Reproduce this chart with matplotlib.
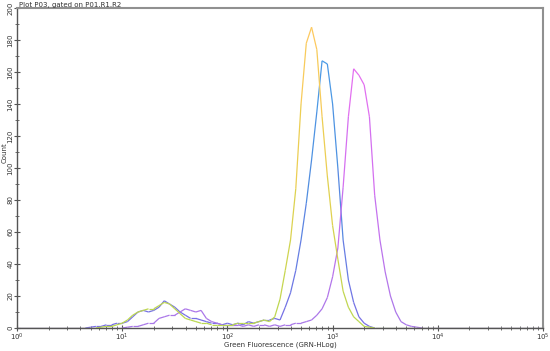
import numpy as np
import matplotlib.pyplot as plt
from matplotlib.collections import LineCollection
from matplotlib.colors import LinearSegmentedColormap

# log10 channel positions shared by the three histograms
log_channels = np.round(np.arange(0.60, 3.91, 0.05), 2)

yellow_counts = [
    0, 0, 0, 0, 0.5, 1, 1, 2, 3, 5, 8, 10, 11, 12, 12, 14, 16, 15, 12, 9,
    6, 5, 4, 3, 3, 2, 2, 2, 2, 2, 3, 3, 3, 3, 4, 5, 4, 7, 18, 36,
    55, 87, 140, 178, 188, 174, 132, 95, 64, 43, 23, 13, 7, 4, 1, 0.5, 0, 0, 0, 0,
    0, 0, 0, 0, 0, 0, 0,
]
blue_counts = [
    0, 0, 0.5, 1, 1, 2, 2, 3, 3, 4, 7, 10, 11, 10, 11, 13, 17, 15, 13, 10,
    8, 6, 6, 5, 4, 3, 3, 2, 3, 2, 3, 2, 4, 3, 4, 5, 5, 6, 5, 13,
    22, 36, 55, 78, 105, 135, 167, 165, 140, 100, 55, 30, 16, 7, 3, 1, 0, 0, 0, 0,
    0, 0, 0, 0, 0, 0, 0,
]
magenta_counts = [
    0, 0, 0, 0, 0, 0, 0, 0, 0, 0.5, 1, 1, 2, 3, 3, 6, 7, 8, 8, 10,
    12, 11, 10, 11, 6, 4, 3, 2, 2, 2, 2, 1, 2, 1, 2, 2, 1, 2, 1, 2,
    2, 3, 3, 4, 5, 8, 12, 19, 32, 50, 88, 132, 162, 158, 152, 132, 83, 55, 35, 20,
    10, 4, 2, 1, 0.5, 0, 0,
]

# colour at the baseline -> colour at the peak
series = [
    ("blue", blue_counts, ["#7a6ee6", "#4f8fe0", "#4aa0e8"]),
    ("magenta", magenta_counts, ["#a878e8", "#d070f0", "#f070f0"]),
    ("yellow", yellow_counts, ["#b8d850", "#e8d050", "#ffc860"]),
]

fig = plt.figure(figsize=(5.5, 3.51), dpi=100)
ax = fig.add_axes([17 / 550, 1 - 328 / 351, 526 / 550, 320 / 351])

x = 10 ** np.concatenate([[0], log_channels, [5]])
for name, counts, cols in series:
    y = np.concatenate([[0], counts, [0]])
    pts = np.column_stack([x, y]).reshape(-1, 1, 2)
    segs = np.concatenate([pts[:-1], pts[1:]], axis=1)
    cmap = LinearSegmentedColormap.from_list(name, cols)
    lc = LineCollection(segs, cmap=cmap, norm=plt.Normalize(0, 190), linewidth=0.9)
    lc.set_array((y[:-1] + y[1:]) / 2)
    ax.add_collection(lc)

ax.set_xscale("log")
ax.set_xlim(1, 1e5)
ax.set_ylim(0, 200)

ax.set_yticks(np.arange(0, 201, 20))
ax.set_yticks(np.arange(0, 201, 10), minor=True)
ax.set_yticklabels([str(v) for v in range(0, 201, 20)], rotation=90, va="center", fontsize=5, color="#333333")
ax.set_xticks([1, 10, 100, 1000, 1e4, 1e5])
ax.set_xticklabels([r"$10^{%d}$" % i for i in range(6)], fontsize=5, color="#333333")
ax.tick_params(axis="both", which="major", direction="inout", length=4, width=0.8, color="#555555", pad=0.5)
ax.tick_params(axis="both", which="minor", direction="inout", length=2.5, width=0.6, color="#555555")

for side in ["left", "bottom"]:
    ax.spines[side].set_color("#555555")
    ax.spines[side].set_linewidth(1.0)
for side in ["top", "right"]:
    ax.spines[side].set_color("#909090")
    ax.spines[side].set_linewidth(1.5)

fig.text(19 / 550, 1 - 5 / 351, "Plot P03, gated on P01.R1.R2", fontsize=5, color="#333333", va="center")
fig.text(5 / 550, 1 - 153 / 351, "Count", fontsize=5, color="#333333", rotation=90, ha="center", va="center")
fig.text(280 / 550, 1 - 345 / 351, "Green Fluorescence (GRN-HLog)", fontsize=5, color="#333333", ha="center", va="center")

fig.savefig("out.png", dpi=100)
